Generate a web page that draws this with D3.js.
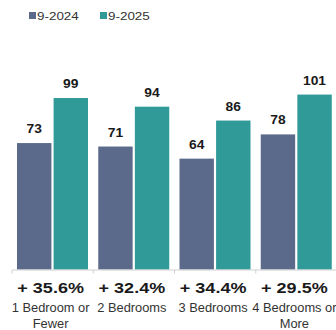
<!DOCTYPE html>
<html>
<head>
<meta charset="utf-8">
<script src="https://cdn.jsdelivr.net/npm/d3@7"></script>
<style>
  html, body { margin: 0; padding: 0; background: #fff; }
  svg { display: block; font-family: "Liberation Sans", Arial, sans-serif; }
</style>
</head>
<body>
<svg id="chart" width="336" height="330"></svg>
<script>
// Bedroom-count categories with counts for each period
const categories = ["1 Bedroom or Fewer", "2 Bedrooms", "3 Bedrooms", "4 Bedrooms or More"];
const categoryLines = [["1 Bedroom or", "Fewer"], ["2 Bedrooms"], ["3 Bedrooms"], ["4 Bedrooms or", "More"]];
const seriesNames = ["9-2024", "9-2025"];
const values2024 = [73, 71, 64, 78];
const values2025 = [99, 94, 86, 101];
const changeLabels = ["+ 35.6%", "+ 32.4%", "+ 34.4%", "+ 29.5%"];

const colors = { "9-2024": "#5b6a8b", "9-2025": "#2f9a97" };
const seriesValues = { "9-2024": values2024, "9-2025": values2025 };

const svg = d3.select("#chart");
const baseY = 269.5;

const x0 = d3.scaleBand().domain(categories).range([12, 337]).padding(0);
const x1 = d3.scaleBand().domain(seriesNames).range([5, 76]).paddingInner(0.06);
const y = d3.scaleLinear().domain([0, 110]).range([baseY, baseY - 110 * 1.732]);

// widen text horizontally to the chart's typographic proportions
function stretch(sel, k) {
  sel.each(function () {
    const w = this.getComputedTextLength();
    d3.select(this).attr("textLength", w * k).attr("lengthAdjust", "spacingAndGlyphs");
  });
}

// Legend
const legend = svg.append("g");
const legendX = [29, 100];
seriesNames.forEach((s, i) => {
  legend.append("rect").attr("x", legendX[i]).attr("y", 12).attr("width", 7).attr("height", 7)
    .attr("fill", colors[s]);
  legend.append("text").attr("x", legendX[i] + 8).attr("y", 19.5)
    .attr("font-size", 11).attr("fill", "#333").text(s)
    .call(stretch, 1.22);
});

// Bars
const groups = svg.append("g").selectAll("g")
  .data(categories).join("g")
  .attr("transform", d => `translate(${x0(d)},0)`);

groups.selectAll("rect")
  .data((d, i) => seriesNames.map(s => ({ s, v: seriesValues[s][i] })))
  .join("rect")
  .attr("x", d => x1(d.s))
  .attr("width", x1.bandwidth())
  .attr("y", d => y(d.v))
  .attr("height", d => y(0) - y(d.v))
  .attr("fill", d => colors[d.s]);

// Value labels
groups.selectAll("text.val")
  .data((d, i) => seriesNames.map(s => ({ s, v: seriesValues[s][i] })))
  .join("text")
  .attr("class", "val")
  .attr("x", d => x1(d.s) + x1.bandwidth() / 2)
  .attr("y", d => y(d.v) - 10)
  .attr("text-anchor", "middle")
  .attr("font-size", 12).attr("font-weight", "bold").attr("fill", "#1a1a1a")
  .text(d => d.v)
  .call(stretch, 1.15);

// Category axis
const axis = svg.append("g");
axis.append("line").attr("x1", 12).attr("x2", 336).attr("y1", baseY + 0.5).attr("y2", baseY + 0.5)
  .attr("stroke", "#cfcfcf").attr("stroke-width", 1);
axis.selectAll("line.tick").data(categories).join("line").attr("class", "tick")
  .attr("x1", d => x0(d)).attr("x2", d => x0(d))
  .attr("y1", baseY + 0.5).attr("y2", baseY + 4)
  .attr("stroke", "#cfcfcf");

// Change labels
svg.append("g").selectAll("text").data(categories).join("text")
  .attr("x", d => x0(d) + x0.bandwidth() / 2 - 2)
  .attr("y", 292.5)
  .attr("text-anchor", "middle")
  .attr("font-size", 15).attr("font-weight", "bold").attr("fill", "#1a1a1a")
  .text((d, i) => changeLabels[i])
  .call(stretch, 1.2);

// Category names
const cat = svg.append("g").selectAll("text").data(categories).join("text")
  .attr("text-anchor", "middle")
  .attr("font-size", 12).attr("fill", "#333");
cat.each(function (d, i) {
  const t = d3.select(this);
  categoryLines[i].forEach((line, j) => {
    t.append("tspan")
      .attr("x", x0(d) + x0.bandwidth() / 2 - 2)
      .attr("y", 311.5 + j * 16)
      .text(line);
  });
});
cat.selectAll("tspan").call(stretch, 1.07);
</script>
</body>
</html>
